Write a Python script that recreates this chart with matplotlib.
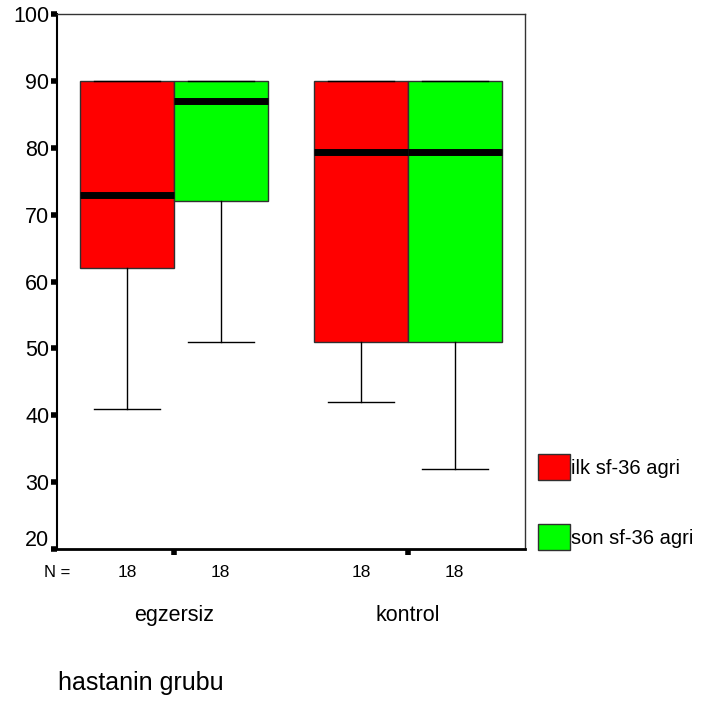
import matplotlib
matplotlib.use("Agg")
import matplotlib.pyplot as plt
import matplotlib.transforms as mtransforms
from matplotlib.patches import Patch
from matplotlib import font_manager

# Data: SF-36 pain scores before (ilk) and after (son), per patient group
groups = ["egzersiz", "kontrol"]
series = ["ilk sf-36 agri", "son sf-36 agri"]
colors = ["#ff0000", "#00ff00"]
n_counts = [[18, 18], [18, 18]]
# five-number summaries: [whisker low, Q1, median, Q3, whisker high]
ilk_stats = [[41, 62, 73, 90, 90], [42, 51, 79.3, 90, 90]]
son_stats = [[51, 72, 87, 90, 90], [32, 51, 79.3, 90, 90]]
y_ticks = [20, 30, 40, 50, 60, 70, 80, 90, 100]

names = {f.name for f in font_manager.fontManager.ttflist}
fam = "Liberation Sans Narrow" if "Liberation Sans Narrow" in names else "Liberation Sans"
plt.rcParams["font.family"] = [fam, "DejaVu Sans"]

fig = plt.figure(figsize=(7.09, 7.05), dpi=100)
W, H = 709, 705
ax = fig.add_axes([57 / W, 1 - 549 / H, (525 - 57) / W, (549 - 14) / H])

width = 0.4
offsets = [-0.2, 0.2]
for s_idx, stats_list in enumerate([ilk_stats, son_stats]):
    bstats = []
    for g_idx, st in enumerate(stats_list):
        lo, q1, med, q3, hi = st
        bstats.append(dict(whislo=lo, q1=q1, med=med, q3=q3, whishi=hi, fliers=[]))
    pos = [g + offsets[s_idx] for g in range(len(groups))]
    ax.bxp(bstats, positions=pos, widths=width, patch_artist=True,
           showfliers=False, showcaps=True, capwidths=width * 0.7,
           boxprops=dict(facecolor=colors[s_idx], edgecolor="#303030", linewidth=1.0),
           medianprops=dict(color="black", linewidth=5, solid_capstyle="butt"),
           whiskerprops=dict(color="black", linewidth=1.0),
           capprops=dict(color="black", linewidth=1.0),
           manage_ticks=False)

ax.set_xlim(-0.5, 1.5)
ax.set_ylim(20, 100)
ax.set_yticks(y_ticks)
ax.set_yticklabels([str(t) for t in y_ticks], fontsize=15.5)
ax.tick_params(axis="y", length=4, width=4, direction="out", pad=1.5, color="black")
ax.set_xticks(range(len(groups)))
ax.set_xticklabels([])
ax.tick_params(axis="x", length=4, width=4, direction="out", color="black")

# lift the lowest label off the x axis
lowest = ax.get_yticklabels()[0]
lowest.set_transform(lowest.get_transform() +
                     mtransforms.ScaledTranslation(0, 11 / 100, fig.dpi_scale_trans))

for side in ["top", "right"]:
    ax.spines[side].set_linewidth(1.0)
    ax.spines[side].set_color("#333333")
ax.spines["left"].set_linewidth(1.5)
ax.spines["bottom"].set_linewidth(2.0)

# N counts under each box
xt = ax.get_xaxis_transform()
ax.text(-0.5 + (70 - 57) / 234, -0.03, "N =", transform=xt,
        ha="right", va="top", fontsize=12)
for g_idx in range(len(groups)):
    for s_idx in range(len(series)):
        ax.text(g_idx + offsets[s_idx], -0.03, str(n_counts[g_idx][s_idx]),
                transform=xt, ha="center", va="top", fontsize=12.5)

# group labels
for g_idx, g in enumerate(groups):
    ax.text(g_idx, -0.105, g, transform=xt, ha="center", va="top", fontsize=15.5)

fig.text(58 / W, 1 - 690 / H, "hastanin grubu", ha="left", va="baseline", fontsize=18)

handles = [Patch(facecolor=c, edgecolor="#303030", linewidth=1.0) for c in colors]
fig.legend(handles, series, loc="upper left", bbox_to_anchor=(538 / W, 1 - 454 / H),
           frameon=False, fontsize=14.5, handlelength=1.6, handleheight=1.6,
           handletextpad=0.05, labelspacing=2.2, borderaxespad=0, borderpad=0)

fig.savefig("out.png", dpi=100)
